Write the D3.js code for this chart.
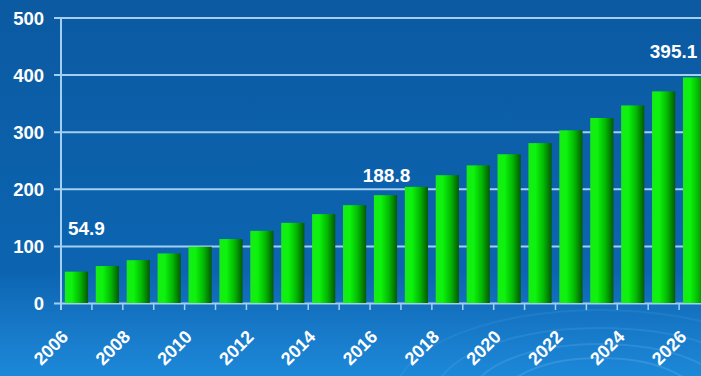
<!DOCTYPE html>
<html>
<head>
<meta charset="utf-8">
<script src="https://cdn.jsdelivr.net/npm/d3@7"></script>
<style>
  html, body { margin: 0; padding: 0; background: #0b5ea8; }
  svg { display: block; }
  text { font-family: "Liberation Sans", Arial, sans-serif; font-weight: bold; fill: #ffffff; }
</style>
</head>
<body>
<svg id="chart" width="701" height="376"></svg>
<script>
// Years and projected values
const years = ["2006","2007","2008","2009","2010","2011","2012","2013","2014","2015","2016",
               "2017","2018","2019","2020","2021","2022","2023","2024","2025","2026"];
const values = [54.9, 64.7, 75.0, 86.8, 98.5, 112.0, 126.4, 140.4, 155.6, 171.3, 188.8,
                203.4, 223.8, 241.0, 260.5, 280.0, 302.4, 324.0, 346.0, 370.6, 395.1];
const yTicks = [0, 100, 200, 300, 400, 500];
const xTickLabels = ["2006","2008","2010","2012","2014","2016","2018","2020","2022","2024","2026"];
// Bars that carry a value label, with the label's offset from the bar top
const labelled = [
  { year: "2006", dx: 10, dy: -37 },
  { year: "2016", dx: 1,  dy: -13 },
  { year: "2026", dx: -21, dy: -19 }
];

const W = 701, H = 376;
const svg = d3.select("#chart");
const defs = svg.append("defs");

// Background
const bg = defs.append("linearGradient").attr("id", "bg").attr("x1", 0).attr("y1", 0).attr("x2", 0).attr("y2", 1);
bg.append("stop").attr("offset", "0%").attr("stop-color", "#0b5aa2");
bg.append("stop").attr("offset", "72%").attr("stop-color", "#0c64b0");
bg.append("stop").attr("offset", "86%").attr("stop-color", "#1677c6");
bg.append("stop").attr("offset", "100%").attr("stop-color", "#1d88d8");
svg.append("rect").attr("width", W).attr("height", H).attr("fill", "url(#bg)");

// Soft ripples in the lower right
const ripples = svg.append("g").attr("fill", "none");
[[95, 38], [128, 52], [165, 68], [205, 86]].forEach(([rx, ry], i) => {
  ripples.append("ellipse")
    .attr("cx", 600).attr("cy", 396).attr("rx", rx).attr("ry", ry)
    .attr("stroke", "#6cb8f2").attr("stroke-opacity", 0.28 - i * 0.05).attr("stroke-width", 2);
});

// Bar shading: bright on the left, dark on the right
const bar = defs.append("linearGradient").attr("id", "bar").attr("x1", 0).attr("y1", 0).attr("x2", 1).attr("y2", 0);
bar.append("stop").attr("offset", "0%").attr("stop-color", "#19ea19");
bar.append("stop").attr("offset", "30%").attr("stop-color", "#0cf40c");
bar.append("stop").attr("offset", "65%").attr("stop-color", "#03b803");
bar.append("stop").attr("offset", "100%").attr("stop-color", "#035803");

const x = d3.scaleBand().domain(years).range([61, 710]).paddingInner(0.25).paddingOuter(0.125);
const y = d3.scaleLinear().domain([0, 500]).range([303, 17.5]);

const gridColor = "#a3cff0";

// Horizontal gridlines with left ticks
const yAxis = d3.axisLeft(y).tickValues(yTicks).tickSize(-(W - 61)).tickPadding(10).tickFormat(d3.format("d"));
const gy = svg.append("g").attr("transform", "translate(61,0)").call(yAxis);
gy.select(".domain").remove();
gy.selectAll(".tick line").attr("x1", -7).attr("stroke", gridColor).attr("stroke-width", 2);
gy.selectAll(".tick text").attr("font-size", 18.5).attr("x", -17).attr("dy", "0.36em");

// Bars
svg.append("g").selectAll("rect").data(values).join("rect")
  .attr("x", (d, i) => x(years[i]))
  .attr("y", d => y(d))
  .attr("width", x.bandwidth())
  .attr("height", d => y(0) - y(d))
  .attr("fill", "url(#bar)");

// Vertical axis line
svg.append("line").attr("x1", 61).attr("x2", 61).attr("y1", y(500)).attr("y2", y(0) + 7)
  .attr("stroke", gridColor).attr("stroke-width", 2);

// Category ticks between bars
const step = x.step();
const tickPos = d3.range(years.length + 1).map(i => x.range()[0] + i * step);
svg.append("g").selectAll("line").data(tickPos.filter(p => p <= W)).join("line")
  .attr("x1", d => d).attr("x2", d => d).attr("y1", y(0)).attr("y2", y(0) + 7)
  .attr("stroke", gridColor).attr("stroke-width", 1.5);

// Year labels, every other year, slanted
svg.append("g").selectAll("text").data(xTickLabels).join("text")
  .attr("transform", d => `translate(${x(d) + x.bandwidth() / 2 - 7},${y(0) + 35}) rotate(-45)`)
  .attr("text-anchor", "end")
  .attr("font-size", 18)
  .text(d => d);

// Value labels
svg.append("g").selectAll("text").data(labelled).join("text")
  .attr("x", d => x(d.year) + x.bandwidth() / 2 + d.dx)
  .attr("y", d => y(values[years.indexOf(d.year)]) + d.dy)
  .attr("text-anchor", "middle")
  .attr("font-size", 19)
  .text(d => values[years.indexOf(d.year)].toFixed(1));
</script>
</body>
</html>
